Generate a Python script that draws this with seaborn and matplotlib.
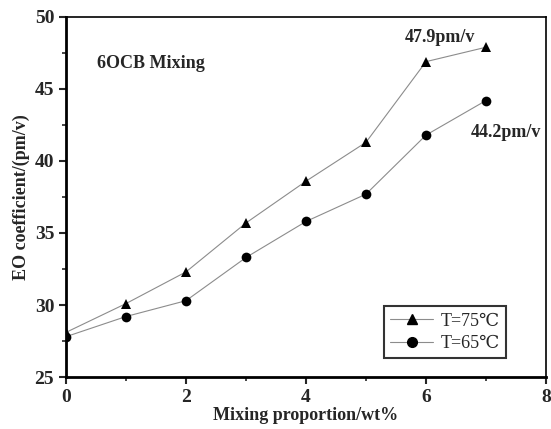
import numpy as np
import pandas as pd
import matplotlib
matplotlib.use("Agg")
import matplotlib.pyplot as plt
import seaborn as sns
from matplotlib.ticker import MultipleLocator
from matplotlib.lines import Line2D

proportion = [0, 1, 2, 3, 4, 5, 6, 7]
eo_75 = [28.1, 30.1, 32.3, 35.7, 38.6, 41.3, 46.9, 47.9]
eo_65 = [27.8, 29.2, 30.3, 33.3, 35.8, 37.7, 41.8, 44.2]
series_names = ["T=75\u2103", "T=65\u2103"]

df = pd.DataFrame({
    "x": proportion * 2,
    "y": eo_75 + eo_65,
    "series": [series_names[0]] * len(proportion) + [series_names[1]] * len(proportion),
})

sns.set_style("white")
plt.rcParams["font.family"] = ["Liberation Serif", "DejaVu Serif"]
plt.rcParams["font.weight"] = "bold"

fig = plt.figure(figsize=(5.51, 4.29), dpi=100)
ax = fig.add_axes([0.1198, 0.1212, 0.8712, 0.8392])

line_col = "#8c8c8c"
sns.lineplot(data=df, x="x", y="y", hue="series", style="series",
             palette=[line_col, line_col], markers=["^", "o"], dashes=False,
             linewidth=0.8, markersize=7, markeredgewidth=0,
             ax=ax, legend=False)
for line in ax.lines:
    line.set_markerfacecolor("black")
    line.set_markeredgecolor("black")

ax.set_xlim(0, 8)
ax.set_ylim(25, 50)
ax.xaxis.set_major_locator(MultipleLocator(2))
ax.xaxis.set_minor_locator(MultipleLocator(1))
ax.yaxis.set_major_locator(MultipleLocator(5))
ax.yaxis.set_minor_locator(MultipleLocator(2.5))
ax.tick_params(axis="both", which="major", direction="out", length=5, width=1.5,
               labelsize=14, bottom=True, left=True, top=False, right=False)
ax.tick_params(axis="both", which="minor", direction="out", length=3, width=1.2,
               bottom=True, left=True, top=False, right=False)
for lab in ax.get_xticklabels() + ax.get_yticklabels():
    lab.set_fontweight("bold")
for s in ["left", "bottom"]:
    ax.spines[s].set_linewidth(2)
for s in ["top", "right"]:
    ax.spines[s].set_linewidth(1.2)
for s in ax.spines.values():
    s.set_color("black")

ax.set_xlabel("Mixing proportion/wt%", fontsize=13, fontweight="bold", labelpad=1)
ax.set_ylabel("EO coefficient/(pm/v)", fontsize=13, fontweight="bold", labelpad=3)

ax.text(0.52, 46.8, "6OCB Mixing", fontsize=13, fontweight="bold", va="center", ha="left")
ax.text(5.65, 48.6, "47.9pm/v", fontsize=13, fontweight="bold", va="center", ha="left")
ax.text(6.75, 42.0, "44.2pm/v", fontsize=13, fontweight="bold", va="center", ha="left")

handles = [Line2D([], [], color=line_col, lw=0.8, marker="^", mfc="black", mec="black", ms=7),
           Line2D([], [], color=line_col, lw=0.8, marker="o", mfc="black", mec="black", ms=7)]
leg = ax.legend(handles, series_names, loc="lower right", bbox_to_anchor=(0.917, 0.052),
                frameon=True, fancybox=False, edgecolor="black", fontsize=13,
                handlelength=2.4, borderpad=0.35, labelspacing=0.3, handletextpad=0.4,
                borderaxespad=0)
leg.get_frame().set_linewidth(1.5)
for t in leg.get_texts():
    t.set_fontweight("normal")

fig.savefig("out.png", dpi=100)
